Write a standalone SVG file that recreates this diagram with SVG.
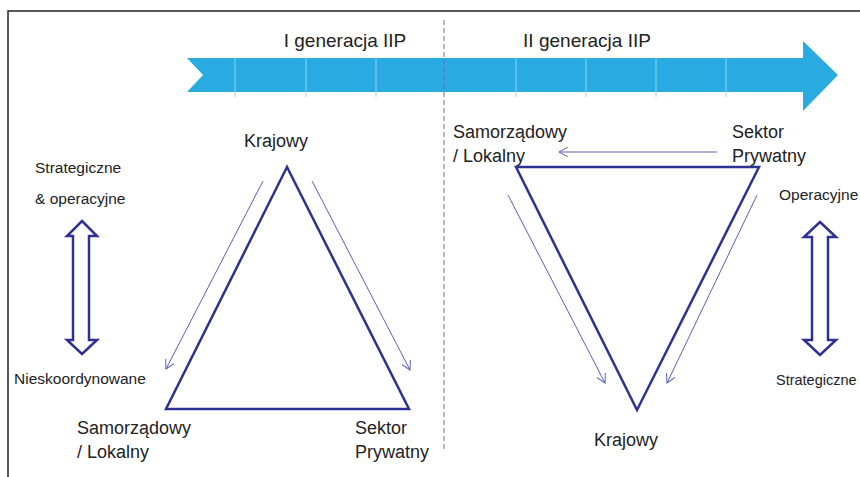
<svg xmlns="http://www.w3.org/2000/svg" width="860" height="477" viewBox="0 0 860 477">
<defs>
<style>
.t{font-family:"Liberation Sans","Open Sans",sans-serif;fill:#222;}
.hd{font-size:19px;}
.lg{font-size:18px;}
.sm{font-size:15.5px;}
.tri{fill:none;stroke:#2e3192;stroke-width:2.5;stroke-linejoin:miter;}
.thin{fill:none;stroke:#5c5fb5;stroke-width:1;}
.dbl{fill:#fff;stroke:#2e3192;stroke-width:2.5;stroke-linejoin:miter;}
.sep{stroke:#8fd3f0;stroke-width:1;}
</style>
<marker id="ah" viewBox="0 0 10 10" refX="9" refY="5" markerWidth="10" markerHeight="10" markerUnits="userSpaceOnUse" orient="auto">
<path d="M0,0 L9,5 L0,10" fill="none" stroke="#5c5fb5" stroke-width="1"/>
</marker>
</defs>
<rect width="860" height="477" fill="#fff"/>
<path d="M8,477 V11 H860" fill="none" stroke="#222" stroke-width="1.5"/>

<g id="timeline">
<path d="M187,58 H803 V41 L838,75 L803,111 V92 H187 L203,75 Z" fill="#29abe2"/>
<g class="sep">
<line x1="235" y1="58" x2="235" y2="97"/>
<line x1="306" y1="58" x2="306" y2="97"/>
<line x1="376" y1="58" x2="376" y2="97"/>
<line x1="516" y1="58" x2="516" y2="97"/>
<line x1="586" y1="58" x2="586" y2="97"/>
<line x1="656" y1="58" x2="656" y2="97"/>
<line x1="726" y1="58" x2="726" y2="97"/>
</g>
<text class="t hd" x="345" y="47" text-anchor="middle">I generacja IIP</text>
<text class="t hd" x="587" y="47" text-anchor="middle">II generacja IIP</text>
</g>

<line id="divider" x1="444" y1="20" x2="444" y2="452" stroke="#6a6cb8" stroke-width="1" stroke-dasharray="5,3"/>

<g id="gen1">
<polygon class="tri" points="287,167 166,409 409,409"/>
<text class="t lg" x="276" y="147" text-anchor="middle">Krajowy</text>
<text class="t lg" x="77" y="434">Samorządowy</text>
<text class="t lg" x="77" y="458">/ Lokalny</text>
<text class="t lg" x="355" y="434">Sektor</text>
<text class="t lg" x="355" y="458">Prywatny</text>
</g>

<g id="gen2">
<polygon class="tri" points="516,167 759,167 637,410"/>
<text class="t lg" x="453" y="138">Samorządowy</text>
<text class="t lg" x="453" y="162">/ Lokalny</text>
<text class="t lg" x="732" y="138">Sektor</text>
<text class="t lg" x="732" y="162">Prywatny</text>
<text class="t lg" x="594" y="446">Krajowy</text>
</g>

<g id="scale-left">
<text class="t sm" x="35" y="173">Strategiczne</text>
<text class="t sm" x="35" y="204">&amp; operacyjne</text>
<path class="dbl" d="M82,221 L97,236 H89 V340 H97 L82,354 L67,340 H73 V236 H67 Z"/>
<text class="t sm" x="14" y="384">Nieskoordynowane</text>
</g>

<g id="scale-right">
<text class="t sm" x="779" y="200">Operacyjne</text>
<path class="dbl" d="M820,222 L836,237 H828 V340 H836 L820,355 L804,340 H812 V237 H804 Z"/>
<text class="t" x="776" y="385" font-size="14.5">Strategiczne</text>
</g>

<g id="connectors">
<line class="thin" x1="263" y1="181" x2="166" y2="369" marker-end="url(#ah)"/>
<line class="thin" x1="312" y1="181" x2="410" y2="370" marker-end="url(#ah)"/>
<line class="thin" x1="717" y1="152" x2="559" y2="152" marker-end="url(#ah)"/>
<line class="thin" x1="508" y1="195" x2="605" y2="383" marker-end="url(#ah)"/>
<line class="thin" x1="757" y1="195" x2="667" y2="383" marker-end="url(#ah)"/>
</g>
</svg>
